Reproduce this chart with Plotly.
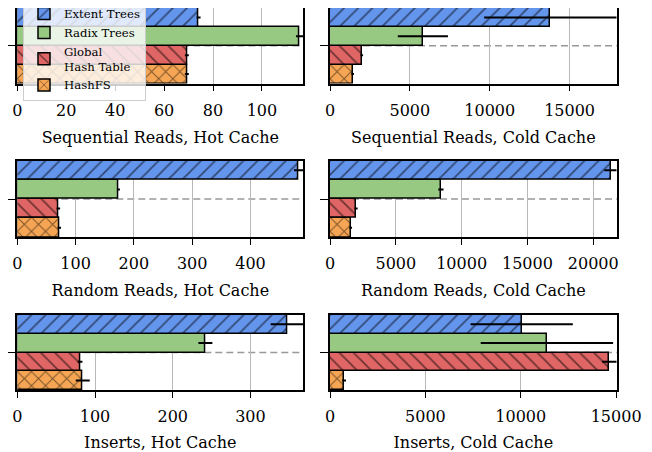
import plotly.graph_objects as go
from plotly.subplots import make_subplots

panels = ["Sequential Reads, Hot Cache", "Sequential Reads, Cold Cache",
          "Random Reads, Hot Cache", "Random Reads, Cold Cache",
          "Inserts, Hot Cache", "Inserts, Cold Cache"]
series_names = ["Extent Trees", "Radix Trees", "Global<br>Hash Table", "HashFS"]

extent = [74.1, 13800, 482.6, 21310, 347, 10050]
extent_err = [0.8, 4150, 8, 470, 21, 2680]
radix = [115.4, 5815, 173.5, 8425, 242, 11370]
radix_err = [1.5, 1570, 2.5, 200, 9, 3470]
global_ht = [69.3, 1990, 70.4, 1980, 80.8, 14650]
global_ht_err = [0.8, 80, 3, 120, 3, 380]
hashfs = [69.3, 1420, 72, 1575, 84.2, 737]
hashfs_err = [0.8, 80, 3, 100, 9, 100]

tick_steps = [20, 5000, 100, 5000, 100, 5000]

values = [extent, radix, global_ht, hashfs]
errors = [extent_err, radix_err, global_ht_err, hashfs_err]
colors = ["#6495ed", "#98c983", "#e06666", "#f5a553"]
hatches = ["/", "", "\\", "x"]

FONT = "DejaVu Serif"
OFF = 8                      # default page margin of the browser
W, H = 652 - OFF, 452 - OFF

fig = make_subplots(rows=3, cols=2)

# draw bottom-to-top so Extent Trees sits on top
for p in range(6):
    r, c = p // 2 + 1, p % 2 + 1
    for s in [3, 2, 1, 0]:
        fig.add_trace(go.Bar(
            x=[values[s][p]], y=[0], orientation="h",
            name=series_names[s], legendgroup=series_names[s],
            showlegend=(p == 0),
            marker=dict(color=colors[s], line=dict(color="black", width=1.5),
                        pattern=dict(shape=hatches[s], fgcolor="black", bgcolor=colors[s],
                                     size=10, solidity=0.18, fillmode="overlay")),
            error_x=dict(type="data", array=[errors[s][p]], color="black",
                         thickness=2, width=0),
        ), row=r, col=c)

xdom_px = [(17.3, 303.3), (330, 616.7)]
ydom_px = [(7.3, 83.5), (160.7, 237.3), (315, 390)]
for p in range(6):
    r, c = p // 2, p % 2
    idx = "" if p == 0 else str(p + 1)
    x0, x1 = xdom_px[c]
    top, bot = ydom_px[r]
    xmax = max(v[p] + e[p] for v, e in zip(values, errors))
    fig.layout["xaxis" + idx].update(
        domain=[(x0 - OFF) / W, (x1 - OFF) / W], range=[0, xmax],
        dtick=tick_steps[p], tick0=0,
        tickformat="d", automargin=False,
        showline=True, linecolor="black", linewidth=1.6, mirror=True,
        ticks="outside", ticklen=6, tickwidth=1.4, tickcolor="black",
        ticklabelstandoff=5,
        showgrid=True, gridcolor="#b8b8b8", gridwidth=1.3, zeroline=False,
        tickfont=dict(family=FONT, size=16, color="black"),
        title=dict(text=panels[p], font=dict(family=FONT, size=16, color="black"), standoff=13),
    )
    fig.layout["yaxis" + idx].update(
        domain=[max(0, 1 - (bot - OFF) / H), min(1, 1 - (top - OFF) / H)], range=[-0.5, 0.5],
        tickvals=[0], showticklabels=False, automargin=False,
        showline=True, linecolor="black", linewidth=1.6, mirror=True,
        ticks="outside", ticklen=8, tickwidth=1.4, tickcolor="black",
        showgrid=False, zeroline=False,
    )
    fig.add_shape(type="line", xref=("x" + idx + " domain"), yref=("y" + idx),
                  x0=0, x1=1, y0=0, y1=0, layer="below",
                  line=dict(color="#999999", width=1.5, dash="7px,4px"))

fig.update_layout(
    width=W, height=H, margin=dict(l=0, r=0, t=0, b=0, autoexpand=False),
    paper_bgcolor="white", plot_bgcolor="white",
    barmode="group", bargap=0, bargroupgap=0,
    font=dict(family=FONT, size=16, color="black"),
    legend=dict(x=(23 - OFF) / W, y=1 + 10 / H, xanchor="left", yanchor="top",
                traceorder="reversed",
                bgcolor="rgba(255,255,255,0.8)", bordercolor="#cccccc", borderwidth=1,
                font=dict(family=FONT, size=11.7, color="black"),
                tracegroupgap=0, itemwidth=30),
)

fig.write_html("out.html")
